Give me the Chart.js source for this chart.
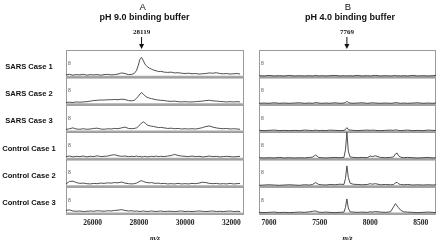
<!DOCTYPE html>
<html>
<head>
<meta charset="utf-8">
<script src="https://cdn.jsdelivr.net/npm/chart.js@4.4.1/dist/chart.umd.min.js"></script>
<style>
html, body { margin: 0; padding: 0; background: #fff; }
#wrap { position: relative; width: 440px; height: 243px; overflow: hidden; }
canvas { position: absolute; top: 0; }
#panelA { left: 0; }
#panelB { left: 250px; }
</style>
</head>
<body>
<div id="wrap">
  <canvas id="panelA" width="250" height="243"></canvas>
  <canvas id="panelB" width="190" height="243"></canvas>
</div>
<script>
// Row labels, top to bottom
const rowLabels = ["SARS Case 1", "SARS Case 2", "SARS Case 3",
                   "Control Case 1", "Control Case 2", "Control Case 3"];

// Panel A: pH 9.0 binding buffer, m/z axis
const panelAMz = [
  24850, 25000, 25150, 25300, 25450, 25600, 25750, 25900, 26050, 26200,
  26350, 26500, 26650, 26800, 26950, 27100, 27250, 27400, 27550, 27700,
  27800, 27900, 27980, 28050, 28119, 28200, 28280, 28360, 28450, 28550,
  28650, 28750, 28850, 28950, 29100, 29250, 29400, 29550, 29700, 29850,
  30000, 30150, 30300, 30450, 30600, 30750, 30900, 31050, 31200, 31350,
  31500, 31650, 31800, 31950, 32100, 32250, 32380
];
const panelATicks = [26000, 28000, 30000, 32000];
const panelAMarker = 28119;

const panelASars1 = [
  0.9, 1.1, 0.8, 1.0, 0.9, 1.1, 0.8, 1.0, 0.9, 1.0,
  0.8, 1.0, 1.1, 0.9, 1.0, 1.2, 1.6, 1.4, 1.0, 1.1,
  1.4, 2.5, 4.5, 6.6, 7.3, 6.0, 4.6, 4.0, 3.4, 3.0,
  2.6, 2.4, 2.1, 2.2, 1.9, 1.8, 1.9, 1.6, 1.7, 1.5,
  1.4, 1.5, 1.3, 1.4, 1.2, 1.3, 1.4, 1.6, 1.5, 1.7,
  1.4, 1.3, 1.4, 1.2, 1.3, 1.4, 1.2
];
const panelASars2 = [
  0.8, 0.9, 0.8, 1.0, 0.9, 1.0, 1.1, 1.3, 1.5, 1.6,
  1.7, 1.7, 1.8, 1.8, 1.9, 1.8, 2.0, 1.9, 1.5, 1.4,
  1.6, 2.3, 3.1, 3.9, 4.4, 3.8, 3.1, 2.7, 2.4, 2.2,
  2.0, 1.8, 1.7, 1.6, 1.5, 1.3, 1.2, 1.3, 1.1, 1.0,
  1.1, 1.0, 1.0, 1.1, 1.2, 1.3, 1.5, 1.6, 1.4, 1.3,
  1.2, 1.1, 1.0, 1.1, 1.0, 1.1, 1.0
];
const panelASars3 = [
  0.9, 1.2, 1.5, 1.1, 1.0, 1.2, 1.0, 1.1, 1.3, 1.4,
  1.1, 1.0, 1.2, 1.1, 1.3, 1.2, 1.5, 1.8, 1.3, 1.2,
  1.3, 1.5, 2.0, 2.7, 3.3, 3.7, 3.2, 2.6, 2.3, 2.1,
  2.0, 1.8, 1.6, 1.7, 1.5, 1.3, 1.4, 1.2, 1.3, 1.1,
  1.2, 1.1, 1.2, 1.1, 1.3, 1.6, 2.0, 2.2, 1.8, 1.5,
  1.3, 1.2, 1.3, 1.1, 1.2, 1.1, 1.0
];
const panelACtrl1 = [
  1.0, 1.2, 0.9, 1.1, 1.0, 1.2, 0.9, 1.1, 1.0, 1.3,
  1.0, 1.1, 1.2, 1.5, 1.7, 1.3, 1.1, 1.2, 1.0, 1.1,
  1.0, 1.2, 1.0, 1.1, 0.9, 1.0, 1.1, 0.9, 1.0, 1.1,
  1.0, 1.2, 1.0, 1.1, 1.0, 1.2, 1.4, 1.8, 1.4, 1.2,
  1.1, 1.0, 1.2, 1.0, 1.1, 0.9, 1.0, 1.2, 1.0, 1.1,
  0.9, 1.0, 1.1, 1.0, 0.9, 1.0, 1.1
];
const panelACtrl2 = [
  1.0, 1.9, 2.0, 1.5, 1.2, 1.3, 1.1, 1.0, 1.2, 1.1,
  1.3, 1.2, 1.4, 1.3, 1.5, 1.4, 1.7, 1.3, 1.1, 1.0,
  1.1, 1.3, 1.7, 2.0, 2.2, 1.9, 1.6, 1.5, 1.4, 1.5,
  1.3, 1.2, 1.3, 1.1, 1.2, 1.0, 1.1, 1.0, 1.2, 1.0,
  1.1, 1.0, 1.2, 1.1, 1.3, 1.6, 1.5, 1.2, 1.1, 1.2,
  1.0, 1.1, 1.0, 1.2, 1.0, 1.1, 1.2
];
const panelACtrl3 = [
  1.3, 1.5, 1.1, 1.0, 1.1, 0.9, 1.0, 1.1, 1.0, 1.2,
  1.1, 1.0, 1.2, 1.1, 1.3, 1.4, 1.6, 1.3, 1.1, 1.2,
  1.0, 1.1, 1.0, 0.9, 1.0, 1.1, 1.0, 0.9, 1.0, 1.1,
  1.0, 0.9, 1.0, 1.1, 0.9, 1.0, 1.0, 0.9, 1.0, 1.1,
  0.9, 1.0, 0.9, 1.0, 1.1, 1.0, 0.9, 1.0, 1.1, 0.9,
  1.0, 0.9, 1.0, 1.1, 0.9, 1.0, 0.9
];

// Panel B: pH 4.0 binding buffer
const panelBMz = [
  6900, 6950, 7000, 7050, 7100, 7150, 7200, 7250, 7300, 7350,
  7400, 7430, 7460, 7490, 7520, 7560, 7600, 7650, 7700, 7740,
  7755, 7769, 7783, 7800, 7830, 7870, 7920, 7970, 8000, 8020,
  8050, 8100, 8150, 8200, 8230, 8250, 8265, 8280, 8300, 8330,
  8370, 8420, 8470, 8520, 8570, 8620, 8650
];
const panelBTicks = [7000, 7500, 8000, 8500];
const panelBMarker = 7769;

const panelBSars1 = [
  0.6, 0.5, 0.7, 0.5, 0.6, 0.5, 0.7, 0.5, 0.6, 0.5,
  0.6, 0.5, 0.7, 0.5, 0.6, 0.5, 0.6, 0.7, 0.5, 0.6,
  0.5, 0.6, 0.5, 0.6, 0.5, 0.7, 0.5, 0.6, 0.5, 0.6,
  0.7, 0.5, 0.6, 0.5, 0.6, 0.7, 0.5, 0.6, 0.5, 0.6,
  0.5, 0.7, 0.5, 0.6, 0.5, 0.6, 0.7
];
const panelBSars2 = [
  0.5, 0.6, 0.5, 0.7, 0.5, 0.6, 0.5, 0.6, 0.7, 0.5,
  0.6, 0.5, 0.8, 0.6, 0.5, 0.6, 0.5, 0.7, 0.5, 0.6,
  0.8, 1.2, 0.8, 0.6, 0.5, 0.6, 0.7, 0.5, 0.6, 0.7,
  0.6, 0.5, 0.6, 0.5, 0.6, 0.8, 0.7, 0.6, 0.5, 0.6,
  0.5, 0.6, 0.7, 0.5, 0.6, 0.5, 0.6
];
const panelBSars3 = [
  0.6, 0.5, 0.6, 0.7, 0.5, 0.6, 0.5, 0.6, 0.5, 0.7,
  0.6, 0.5, 0.7, 0.5, 0.6, 0.5, 0.7, 0.6, 0.5, 0.6,
  0.9, 1.6, 0.9, 0.7, 0.6, 0.5, 0.6, 0.7, 0.6, 0.7,
  0.6, 0.5, 0.6, 0.7, 0.6, 0.8, 0.7, 0.6, 0.5, 0.6,
  0.7, 0.5, 0.6, 0.5, 0.7, 0.6, 0.5
];
const panelBCtrl1 = [
  0.6, 0.5, 0.6, 0.5, 0.7, 0.5, 0.6, 0.5, 0.6, 0.5,
  0.7, 0.8, 1.6, 0.7, 0.6, 0.5, 0.6, 0.7, 0.6, 0.7,
  3.5, 9.9, 3.0, 0.9, 0.7, 0.6, 0.7, 0.6, 1.2, 1.0,
  1.3, 0.7, 0.6, 0.7, 0.9, 2.0, 2.3, 1.3, 0.8, 0.6,
  0.7, 0.6, 0.5, 0.6, 0.7, 0.5, 0.6
];
const panelBCtrl2 = [
  0.5, 0.6, 0.7, 0.6, 0.5, 0.6, 0.7, 0.6, 0.5, 0.7,
  0.6, 0.8, 1.5, 0.8, 0.7, 0.6, 0.8, 0.7, 0.9, 0.8,
  3.0, 7.6, 3.4, 1.3, 0.9, 0.8, 0.7, 0.8, 1.1, 0.9,
  1.1, 0.7, 0.8, 0.7, 0.8, 1.4, 1.6, 1.0, 0.8, 0.7,
  0.8, 0.6, 0.7, 0.6, 0.7, 0.6, 0.7
];
const panelBCtrl3 = [
  0.6, 0.5, 0.6, 0.7, 0.5, 0.6, 0.5, 0.6, 0.7, 0.6,
  0.8, 1.0, 1.1, 0.7, 0.6, 0.7, 0.6, 0.5, 0.6, 0.7,
  2.4, 5.5, 2.2, 0.8, 0.7, 0.6, 0.7, 0.6, 0.8, 0.7,
  0.9, 0.7, 0.6, 0.8, 2.6, 3.8, 3.0, 2.3, 1.4, 0.8,
  0.7, 0.6, 0.5, 0.6, 0.7, 0.6, 0.5
];

const SANS = "'Liberation Sans', Arial, sans-serif";
const SERIF = "'Liberation Serif', 'Times New Roman', serif";

// Draws the boxed rows, titles, marker arrow and row labels around the traces.
const spectrumFrame = {
    id: "spectrumFrame",
    beforeDatasetsDraw(chart, args, opts) {
        const { ctx, chartArea } = chart;
        ctx.save();
        opts.rowIds.forEach(id => {
            const s = chart.scales[id];
            ctx.strokeStyle = "#9a9a9a";
            ctx.lineWidth = 1;
            ctx.strokeRect(chartArea.left + 0.5, s.top + 0.5, chartArea.width - 1, s.height);
            ctx.strokeStyle = "#a8a8a8";
            ctx.lineWidth = 2;
            ctx.beginPath();
            ctx.moveTo(chartArea.left, s.bottom - 0.5);
            ctx.lineTo(chartArea.right, s.bottom - 0.5);
            ctx.stroke();
            ctx.fillStyle = "#555";
            ctx.font = "5px " + SANS;
            ctx.textAlign = "left";
            ctx.textBaseline = "middle";
            ctx.fillText("8", chartArea.left + 2, (s.top + s.bottom) / 2);
        });
        ctx.restore();
    },
    afterDraw(chart, args, opts) {
        const { ctx } = chart;
        const mx = chart.scales.x.getPixelForValue(opts.marker);
        ctx.save();
        ctx.fillStyle = "#111";
        ctx.textAlign = "center";
        ctx.textBaseline = "middle";
        ctx.font = "9.5px " + SANS;
        ctx.fillText(opts.letter, mx + 1, 7);
        ctx.font = "bold 9px " + SANS;
        ctx.fillText(opts.buffer, mx + 3, 17.5);
        ctx.font = "bold 7px " + SERIF;
        ctx.fillText(String(opts.marker), mx, 32.5);
        ctx.strokeStyle = "#111";
        ctx.lineWidth = 1;
        ctx.beginPath();
        ctx.moveTo(mx, 37);
        ctx.lineTo(mx, 45);
        ctx.stroke();
        ctx.beginPath();
        ctx.moveTo(mx - 2.5, 44);
        ctx.lineTo(mx + 2.5, 44);
        ctx.lineTo(mx, 49);
        ctx.closePath();
        ctx.fill();
        if (opts.rowLabels) {
            ctx.font = "bold 7.6px " + SANS;
            opts.rowIds.forEach((id, i) => {
                const s = chart.scales[id];
                ctx.fillText(opts.rowLabels[i], 29, (s.top + s.bottom) / 2 + 3);
            });
        }
        ctx.restore();
    },
};

function buildPanel(canvasId, p) {
    const rowIds = p.series.map((_, i) => "y" + i);
    const scales = {
        x: {
            type: "linear",
            position: "bottom",
            min: p.xMin,
            max: p.xMax,
            grid: { display: false, drawTicks: false },
            border: { display: false },
            afterBuildTicks: scale => {
                scale.ticks = p.ticks.map(v => ({ value: v }));
            },
            afterFit: scale => { scale.height = 29; },
            ticks: {
                padding: 5,
                maxRotation: 0,
                autoSkip: false,
                color: "#222",
                font: { family: SERIF, size: 7.5, weight: "bold" },
                callback: v => String(v),
            },
            title: {
                display: true,
                text: "m/z",
                color: "#222",
                padding: { top: 2, bottom: 1 },
                font: { family: SERIF, size: 7, style: "italic", weight: "bold" },
            },
        },
    };
    const datasets = p.series.map((ys, i) => {
        scales[rowIds[i]] = {
            type: "linear",
            axis: "y",
            position: "left",
            min: 0,
            max: 10,
            stack: "rows",
            stackWeight: 1,
            weight: p.series.length - i,
            offset: false,
            grid: { display: false, drawTicks: false },
            border: { display: false },
            ticks: { display: false },
        };
        return {
            label: rowLabels[i],
            data: ys.map((y, j) => ({ x: p.mz[j], y })),
            yAxisID: rowIds[i],
            borderColor: "#3c3c3c",
            borderWidth: 0.9,
            pointRadius: 0,
            tension: 0,
            fill: false,
        };
    });
    return new Chart(document.getElementById(canvasId), {
        type: "line",
        data: { datasets },
        options: {
            responsive: false,
            animation: false,
            layout: { padding: p.padding },
            plugins: {
                legend: { display: false },
                tooltip: { enabled: false },
                spectrumFrame: {
                    rowIds,
                    marker: p.marker,
                    letter: p.letter,
                    buffer: p.buffer,
                    rowLabels: p.showLabels ? rowLabels : null,
                },
            },
            scales,
        },
        plugins: [spectrumFrame],
    });
}

buildPanel("panelA", {
    mz: panelAMz,
    series: [panelASars1, panelASars2, panelASars3, panelACtrl1, panelACtrl2, panelACtrl3],
    xMin: 24850, xMax: 32550,
    ticks: panelATicks,
    marker: panelAMarker,
    letter: "A",
    buffer: "pH 9.0 binding buffer",
    showLabels: true,
    padding: { left: 66, top: 50, right: 6, bottom: 0 },
});

buildPanel("panelB", {
    mz: panelBMz,
    series: [panelBSars1, panelBSars2, panelBSars3, panelBCtrl1, panelBCtrl2, panelBCtrl3],
    xMin: 6900, xMax: 8650,
    ticks: panelBTicks,
    marker: panelBMarker,
    letter: "B",
    buffer: "pH 4.0 binding buffer",
    showLabels: false,
    padding: { left: 9, top: 50, right: 4, bottom: 0 },
});
</script>
</body>
</html>
